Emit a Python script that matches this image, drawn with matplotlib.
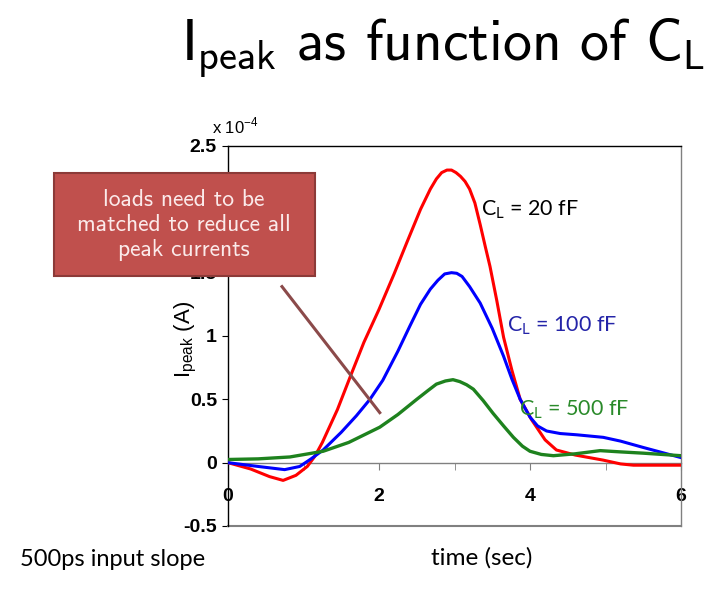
"""I_peak versus time for three load capacitances."""
import matplotlib
matplotlib.use("Agg")
import matplotlib.pyplot as plt
from matplotlib.patches import Rectangle
from matplotlib.ticker import MultipleLocator

# curve samples (time in s, current in 1e-4 A)
t_20 = [0, 0.3, 0.55, 0.73, 0.9, 1.05, 1.15, 1.25, 1.45, 1.62, 1.8, 2.0, 2.2, 2.37, 2.55,
        2.68, 2.76, 2.83, 2.9, 2.96, 3.02, 3.08, 3.14, 3.2, 3.27, 3.34, 3.41, 3.47, 3.56,
        3.65, 3.76, 3.87, 4.02, 4.2, 4.35, 4.6, 4.97, 5.2, 5.37, 5.7, 6.0]
i_20 = [0, -0.05, -0.11, -0.14, -0.1, -0.03, 0.05, 0.16, 0.42, 0.68, 0.95, 1.21, 1.49, 1.74,
        2.0, 2.16, 2.24, 2.29, 2.31, 2.31, 2.29, 2.26, 2.22, 2.16, 2.05, 1.88, 1.7, 1.55,
        1.28, 0.99, 0.73, 0.5, 0.34, 0.18, 0.1, 0.06, 0.02, -0.01, -0.02, -0.02, -0.02]

t_100 = [0, 0.4, 0.75, 0.95, 1.1, 1.26, 1.5, 1.7, 1.88, 2.05, 2.25, 2.41, 2.55, 2.68, 2.78,
         2.87, 2.96, 3.03, 3.1, 3.2, 3.34, 3.5, 3.65, 3.76, 3.87, 4.0, 4.1, 4.22, 4.4, 4.62,
         4.97, 5.2, 5.5, 5.75, 6.0]
i_100 = [0, -0.03, -0.055, -0.03, 0.03, 0.1, 0.24, 0.37, 0.5, 0.65, 0.88, 1.08, 1.25, 1.37,
         1.44, 1.49, 1.5, 1.495, 1.47, 1.39, 1.26, 1.06, 0.84, 0.66, 0.5, 0.36, 0.29, 0.25,
         0.23, 0.22, 0.2, 0.17, 0.12, 0.08, 0.04]

t_500 = [0, 0.4, 0.82, 1.26, 1.6, 2.01, 2.25, 2.5, 2.65, 2.76, 2.88, 2.98, 3.07, 3.16, 3.25,
         3.38, 3.51, 3.65, 3.78, 3.9, 4.0, 4.15, 4.31, 4.6, 4.93, 5.2, 5.5, 6.0]
i_500 = [0.025, 0.03, 0.045, 0.09, 0.16, 0.28, 0.38, 0.5, 0.57, 0.62, 0.645, 0.655, 0.64,
         0.615, 0.58, 0.49, 0.39, 0.29, 0.2, 0.13, 0.09, 0.065, 0.055, 0.07, 0.095, 0.085,
         0.075, 0.055]

x_ticks = [0, 2, 4, 6]
y_ticks = [-0.5, 0, 0.5, 1, 1.5, 2, 2.5]
y_tick_labels = ["-0.5", "0", "0.5", "1", "1.5", "2", "2.5"]

plt.rcParams["mathtext.fontset"] = "custom"
plt.rcParams["mathtext.rm"] = "cmss10"

W, H = 727, 594
fig = plt.figure(figsize=(W / 100, H / 100), dpi=100)
ax = fig.add_axes([228 / W, 1 - 526 / H, (681 - 228) / W, (526 - 146) / H])

ax.plot(t_20, i_20, color="#ff0000", lw=2.2, zorder=3)
ax.plot(t_100, i_100, color="#0000ff", lw=2.2, zorder=3)
ax.plot(t_500, i_500, color="#1e821e", lw=2.4, zorder=3)

ax.set_xlim(0, 6)
ax.set_ylim(-0.5, 2.5)

narrow = ["Liberation Sans Narrow", "Liberation Sans", "DejaVu Sans"]

# x axis sits at zero, frame line at -0.5
ax.spines["bottom"].set_position(("data", 0))
ax.spines["bottom"].set_color("#808080")
ax.spines["left"].set_color("black")
ax.spines["top"].set_color("black")
ax.spines["right"].set_color("#808080")
for s in ax.spines.values():
    s.set_linewidth(1.0)
ax.axhline(-0.5, color="#808080", lw=1.5, clip_on=False)

ax.set_xticks(x_ticks)
ax.xaxis.set_minor_locator(MultipleLocator(1))
ax.tick_params(axis="x", which="both", direction="out", length=5, color="#808080",
               pad=13)
ax.set_yticks(y_ticks)
ax.set_yticklabels(y_tick_labels)
ax.tick_params(axis="y", direction="out", length=4, pad=4)
for lab in ax.get_xticklabels() + ax.get_yticklabels():
    lab.set_family(narrow)
    lab.set_fontweight("bold")
    lab.set_fontsize(14)

ax.set_ylabel(r"I$_{\mathregular{peak}}$ (A)", family="Liberation Sans", fontsize=16)
ax.yaxis.set_label_coords(-0.064, 0.49)

fig.text(212 / W, 1 - 133 / H, r"x 10$^{\mathregular{-4}}$", family="Liberation Sans",
         fontsize=12, va="baseline")

# curve labels
calibri = ["Lato", "DejaVu Sans"]
ax.text(3.35, 2.0, r"C$_{\mathregular{L}}$ = 20 fF", color="black", family=calibri,
        fontsize=15.5, va="center")
ax.text(3.7, 1.08, r"C$_{\mathregular{L}}$ = 100 fF", color="#2424a8", family=calibri,
        fontsize=15.5, va="center")
ax.text(3.85, 0.42, r"C$_{\mathregular{L}}$ = 500 fF", color="#2a8a2a", family=calibri,
        fontsize=15.5, va="center")

# pointer line from the callout
ax.plot([0.715, 2.01], [1.39, 0.395], color="#8b4a4a", lw=2.2, zorder=4)

# callout box
fig.patches.append(Rectangle((54 / W, 1 - 276 / H), (315 - 54) / W, (276 - 173) / H,
                             transform=fig.transFigure, facecolor="#c0504d",
                             edgecolor="#8c3a38", lw=1.5, zorder=5))
fig.text(184 / W, 1 - 225 / H, "loads need to be\nmatched to reduce all\npeak currents",
         ha="center", va="center", color="#fbeaea", family="cmss10", fontsize=17,
         linespacing=1.2, zorder=6)

fig.text(0.5 * (182 + 705) / W, 1 - 60 / H,
         r"I$_{\mathrm{peak}}$ as function of C$_{\mathrm{L}}$",
         ha="center", va="baseline", family="cmss10", fontsize=41.5)

fig.text(20 / W, 1 - 560 / H, "500ps input slope", family=calibri, fontsize=17,
         va="center")
fig.text(482 / W, 1 - 558 / H, "time (sec)", family=calibri, fontsize=17.5, va="center",
         ha="center")

fig.savefig("out.png", dpi=100)
